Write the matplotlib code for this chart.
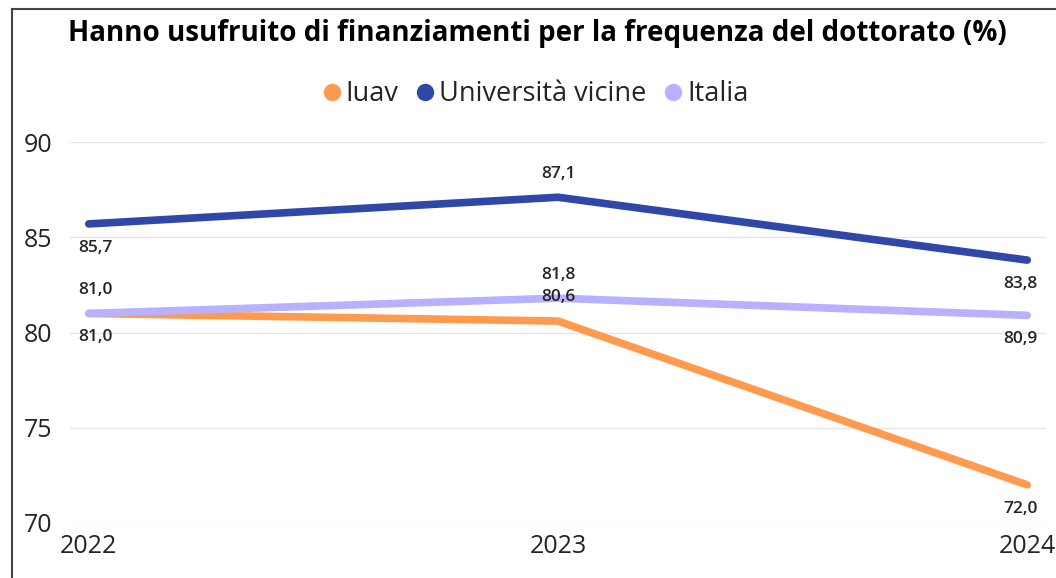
import matplotlib.pyplot as plt
from matplotlib.lines import Line2D

years = [2022, 2023, 2024]
iuav = [81.0, 80.6, 72.0]
vicine = [85.7, 87.1, 83.8]
italia = [81.0, 81.8, 80.9]

series_names = ['Iuav', 'Università vicine', 'Italia']
series_values = [iuav, vicine, italia]
colors = ['#FF9A4F', '#2F48A8', '#B7B1FF']
# label placement per point: +1 above, -1 below
label_side = [[-1, 1, -1], [-1, 1, -1], [1, 1, -1]]

plt.rcParams['font.family'] = ['Open Sans', 'DejaVu Sans']
text_color = '#252423'

fig = plt.figure(figsize=(10.56, 5.78), dpi=100)
ax = fig.add_axes([70/1056, 1-523/578, (1046-70)/1056, (523-142)/578])

for name, vals, c in zip(series_names, series_values, colors):
    ax.plot(years, vals, color=c, lw=5.5, solid_capstyle='round', solid_joinstyle='round', label=name)

for vals, sides in zip(series_values, label_side):
    for i, (x, v) in enumerate(zip(years, vals)):
        dx = 5 if i == 0 else (-5 if i == len(years)-1 else 0)
        dy = 17 * sides[i]
        ax.annotate(f'{v:.1f}'.replace('.', ','), (x, v), xytext=(dx, dy),
                    textcoords='offset points', ha='center', va='center',
                    fontsize=12.5, color=text_color, fontweight='semibold')

ax.set_xlim(2021.96, 2024.04)
ax.set_ylim(70, 90)
ax.set_yticks([70, 75, 80, 85, 90])
ax.set_xticks(years)
ax.set_xticklabels([str(y) for y in years])
ax.tick_params(axis='both', length=0, labelsize=18, colors=text_color)
ax.tick_params(axis='y', pad=13)
ax.tick_params(axis='x', pad=8)
ax.grid(axis='y', color='#E6E6E6', lw=1)
ax.set_axisbelow(True)
for s in ax.spines.values():
    s.set_visible(False)

fig.text(0.509, 1-33/578, 'Hanno usufruito di finanziamenti per la frequenza del dottorato (%)',
         ha='center', va='center', fontsize=20, fontweight='bold', color='black')

handles = [Line2D([], [], marker='o', ls='none', color=c, markersize=11.5) for c in colors]
fig.legend(handles, series_names, loc='center', bbox_to_anchor=(0.505, 1-94/578), ncol=3,
           frameon=False, fontsize=19.5, handletextpad=0.0, columnspacing=0.5,
           labelcolor=text_color, handlelength=1.0)

# outer frame
fig.add_artist(Line2D([12/1056, 12/1056], [0, 1-9/578], color='#444444', lw=1.5))
fig.add_artist(Line2D([12/1056, 1], [1-9/578, 1-9/578], color='#444444', lw=1.5))

fig.savefig('out.png', dpi=100)
